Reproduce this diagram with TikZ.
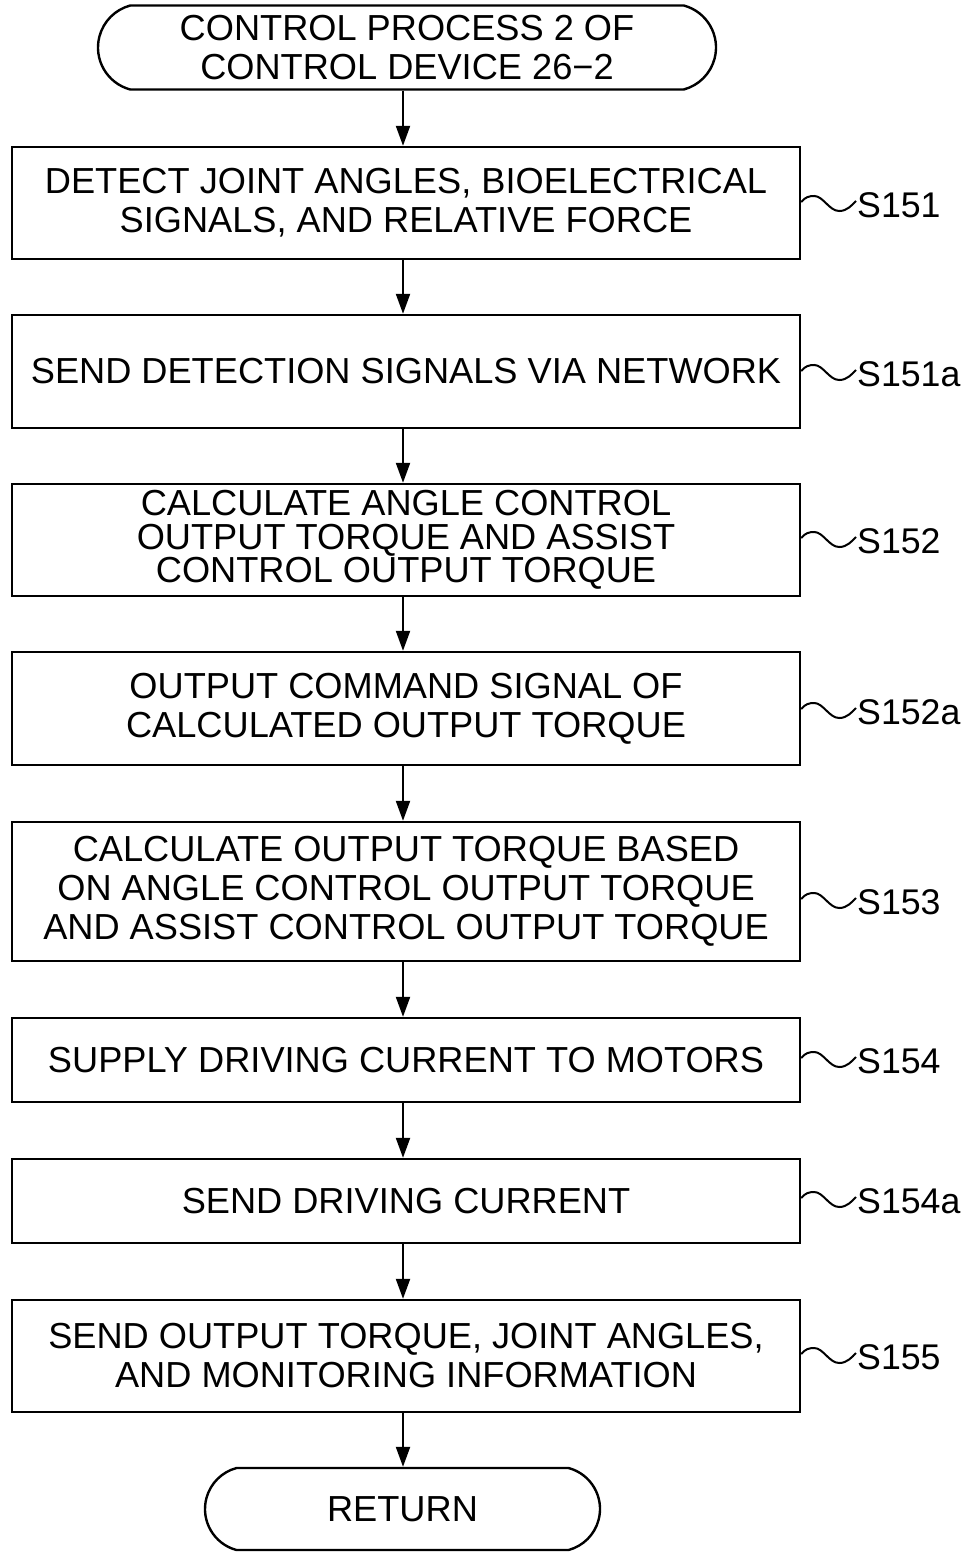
\documentclass[tikz,border=0pt]{standalone}
\usepackage{fontspec}
\setmainfont{Liberation Sans}
\usetikzlibrary{arrows.meta,shapes.misc}
\begin{document}
\begin{tikzpicture}[x=1pt,y=-1pt,
  every node/.style={font=\fontsize{36.2}{39}\selectfont},
  stepbox/.style={draw,line width=2.4pt,minimum width=788pt,align=center,inner sep=0pt},
  term/.style={draw,line width=2.4pt,rounded rectangle,rounded rectangle arc length=150,align=center,inner sep=0pt,minimum height=84pt},
  arr/.style={line width=2.2pt,-{Triangle[length=20pt,width=14pt]}},
  curl/.style={line width=2pt},
  lab/.style={anchor=west,inner sep=1pt,font=\fontsize{35.7}{39}\selectfont}]
\useasboundingbox (0,0) rectangle (963,1552);
\coordinate (ax) at (403,0);
\node[term,minimum width=618pt] (s) at (407,47.5) {CONTROL PROCESS 2 OF\\CONTROL DEVICE 26−2};
\node[stepbox,minimum height=112pt] (b1) at (406,203) {DETECT JOINT ANGLES, BIOELECTRICAL\\SIGNALS, AND RELATIVE FORCE};
\node[stepbox,minimum height=113pt] (b2) at (406,371.5) {SEND DETECTION SIGNALS VIA NETWORK};
\node[stepbox,minimum height=112pt,font=\fontsize{36.2}{33.5}\selectfont] (b3) at (406,540) {CALCULATE ANGLE CONTROL\\OUTPUT TORQUE AND ASSIST\\CONTROL OUTPUT TORQUE};
\node[stepbox,minimum height=113pt] (b4) at (406,708.5) {OUTPUT COMMAND SIGNAL OF\\CALCULATED OUTPUT TORQUE};
\node[stepbox,minimum height=139pt] (b5) at (406,891.5) {CALCULATE OUTPUT TORQUE BASED\\ON ANGLE CONTROL OUTPUT TORQUE\\AND ASSIST CONTROL OUTPUT TORQUE};
\node[stepbox,minimum height=84pt] (b6) at (406,1060) {SUPPLY DRIVING CURRENT TO MOTORS};
\node[stepbox,minimum height=84pt] (b7) at (406,1201) {SEND DRIVING CURRENT};
\node[stepbox,minimum height=112pt] (b8) at (406,1356) {SEND OUTPUT TORQUE, JOINT ANGLES,\\AND MONITORING INFORMATION};
\node[term,minimum width=395pt,minimum height=82pt] (r) at (402.5,1509) {RETURN};
\foreach \a/\b in {s/b1,b1/b2,b2/b3,b3/b4,b4/b5,b5/b6,b6/b7,b7/b8,b8/r}
  \draw[arr] (\a.south -| ax) -- (\b.north -| ax);
\node[lab] (l1) at (856,205) {S151};
\node[lab] (l2) at (856,374) {S151a};
\node[lab] (l3) at (856,541) {S152};
\node[lab] (l4) at (856,712) {S152a};
\node[lab] (l5) at (856,902) {S153};
\node[lab] (l6) at (856,1061) {S154};
\node[lab] (l7) at (856,1201) {S154a};
\node[lab] (l8) at (856,1357) {S155};
\foreach \b/\l in {b1/l1,b2/l2,b3/l3,b4/l4,b5/l5,b6/l6,b7/l7,b8/l8}
  \draw[curl] ([yshift=3pt]\l.west -| \b.east) .. controls +(4,-5) and +(-5,0) .. ++(13,-6)
     .. controls +(9,0) and +(-10,0) .. ++(25,15)
     .. controls +(8,0) and +(-4,4) .. ([yshift=4pt]\l.west);
\end{tikzpicture}
\end{document}
